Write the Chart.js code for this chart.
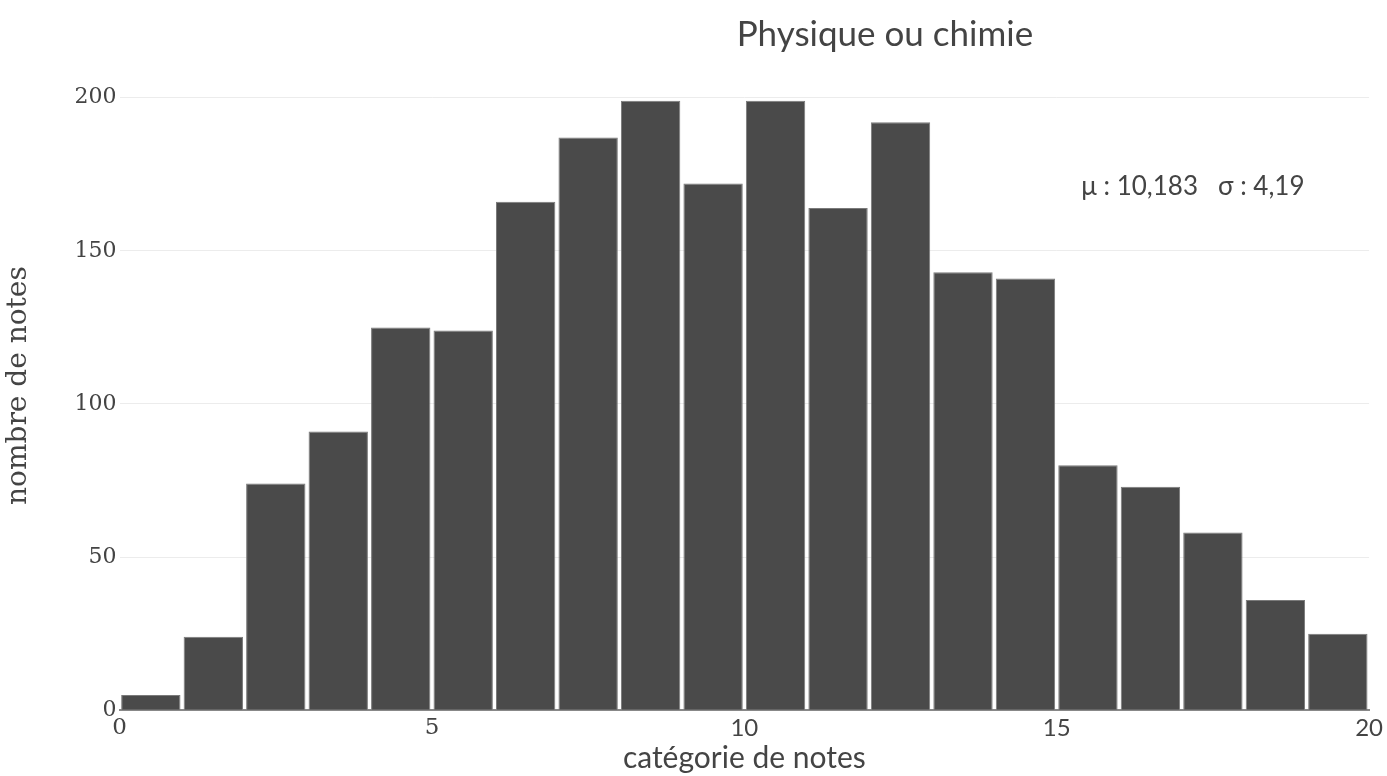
<!DOCTYPE html>
<html>
<head>
<meta charset="utf-8">
<script src="https://cdn.jsdelivr.net/npm/chart.js@4"></script>
<style>
  html, body { margin: 0; padding: 0; background: #fff; }
  #wrap { width: 1387px; height: 776px; }
</style>
</head>
<body>
<div id="wrap"><canvas id="c" width="1387" height="776"></canvas></div>
<script>
// one bin per note, 0-1 ... 19-20
const binStarts = [0, 1, 2, 3, 4, 5, 6, 7, 8, 9, 10, 11, 12, 13, 14, 15, 16, 17, 18, 19];
const counts = [5, 24, 74, 91, 125, 124, 166, 187, 199, 172, 199, 164, 192, 143, 141, 80, 73, 58, 36, 25];
const yTicks = [0, 50, 100, 150, 200];
const xTicks = [0, 5, 10, 15, 20];
const titleText = 'Physique ou chimie';
const statsText = 'μ : 10,183   σ : 4,19';

const SANS = 'Lato, "Open Sans", sans-serif';
const SERIF = '"DejaVu Serif", "Liberation Serif", serif';
const TXT = '#444';

const points = binStarts.map((s, i) => ({ x: s + 0.5, y: counts[i] }));

// title + mu/sigma text
const extras = {
  id: 'extras',
  afterDraw(chart) {
    const { ctx, scales } = chart;
    ctx.save();
    ctx.fillStyle = TXT;
    ctx.textAlign = 'center';
    ctx.textBaseline = 'middle';
    ctx.font = '35px ' + SANS;
    ctx.fillText(titleText, chart.width * 0.638, 35);
    ctx.font = '26px ' + SANS;
    ctx.fillText(statsText, scales.x.getPixelForValue(17.18), scales.y.getPixelForValue(171));
    ctx.restore();
  }
};

new Chart(document.getElementById('c'), {
  type: 'bar',
  data: {
    datasets: [{
      data: points,
      backgroundColor: '#4a4a4a',
      borderColor: '#7a7a7a',
      borderWidth: 1,
      barPercentage: 0.95,
      categoryPercentage: 1
    }]
  },
  options: {
    responsive: false,
    animation: false,
    layout: { padding: { top: 61, right: 2, left: 2, bottom: 0 } },
    plugins: { legend: { display: false }, tooltip: { enabled: false } },
    scales: {
      x: {
        type: 'linear',
        min: 0,
        max: 20,
        offset: false,
        grid: { display: false, drawTicks: false },
        border: { display: true, color: '#888', width: 2 },
        afterBuildTicks(axis) { axis.ticks = xTicks.map(v => ({ value: v })); },
        ticks: {
          color: TXT,
          padding: 4,
          maxRotation: 0,
          font: (c) => {
            const v = c.tick ? c.tick.value : 10;
            return (v === 0 || v === 5) ? { family: SERIF, size: 23 } : { family: SANS, size: 24 };
          }
        },
        title: {
          display: true,
          text: 'catégorie de notes',
          color: TXT,
          font: { family: SANS, size: 30 },
          padding: { top: -7, bottom: 0 }
        }
      },
      y: {
        min: 0,
        max: 212,
        grid: { color: '#ececec', drawTicks: false },
        border: { display: false },
        afterBuildTicks(axis) { axis.ticks = yTicks.map(v => ({ value: v })); },
        ticks: {
          color: TXT,
          padding: 3,
          font: { family: SERIF, size: 22 }
        },
        title: {
          display: true,
          text: 'nombre de notes',
          color: TXT,
          font: { family: SERIF, size: 28 },
          padding: { top: 0, bottom: 36 }
        }
      }
    }
  },
  plugins: [extras]
});
</script>
</body>
</html>
